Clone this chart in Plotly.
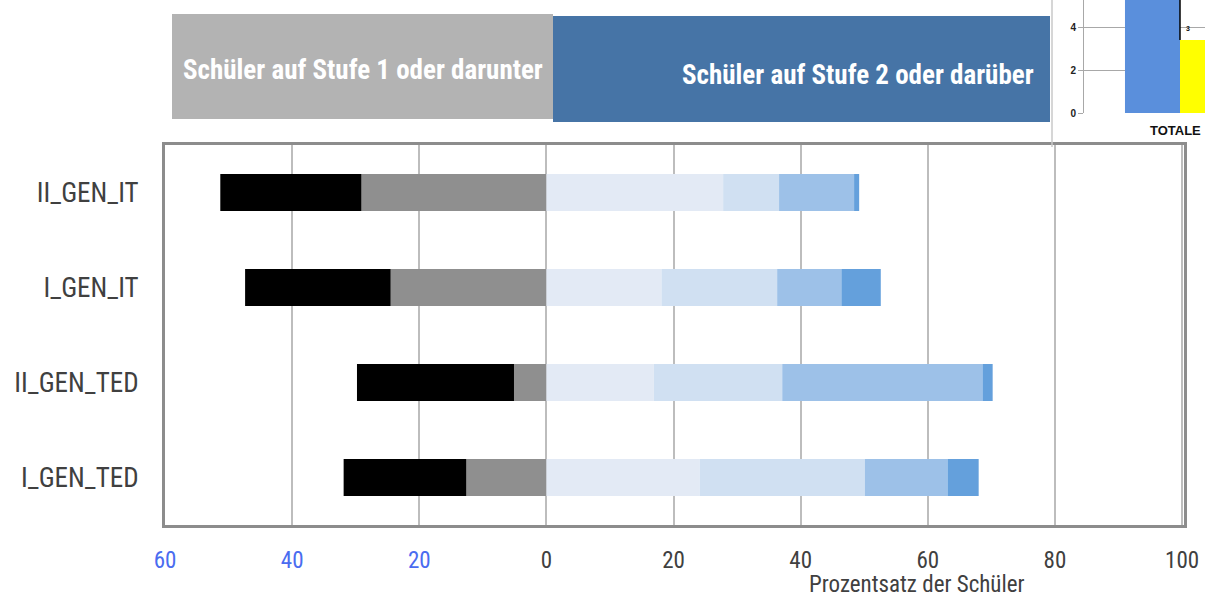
import plotly.graph_objects as go

W, H = 1205, 597

categories = ["II_GEN_IT", "I_GEN_IT", "II_GEN_TED", "I_GEN_TED"]
# below level 2 (plotted to the left)
level1 = [29.1, 24.5, 5.1, 12.6]
below1 = [22.2, 22.9, 24.7, 19.3]
# level 2 or above (plotted to the right)
level2 = [27.8, 18.1, 16.9, 24.1]
level3 = [8.8, 18.2, 20.2, 26.0]
level4 = [11.8, 10.1, 31.5, 13.0]
level5 = [0.8, 6.2, 1.6, 4.9]

tick_vals = [-60, -40, -20, 0, 20, 40, 60, 80, 100]
tick_text = ["60", "40", "20", "0", "20", "40", "60", "80", "100"]

inset_cats = ["TOTALE"]
inset_blue = [6.5]
inset_yellow = [3.4]
inset_ticks = [0, 2, 4]

FONT = "Liberation Sans Narrow, Roboto Condensed, Arial Narrow, Liberation Sans, sans-serif"
IFONT = "Liberation Sans, Arial, sans-serif"

fig = go.Figure()

def px_x(p):
    return p / W

def px_y(p):
    return 1 - p / H

neg_series = [(level1, "#8f8f8f"), (below1, "#000000")]
pos_series = [(level2, "#e3eaf5"), (level3, "#d0e0f2"), (level4, "#9dc1e8"), (level5, "#64a0dc")]

for vals, col in neg_series:
    fig.add_trace(go.Bar(y=categories, x=[-v for v in vals], orientation="h",
                         marker=dict(color=col, line=dict(width=0)), width=0.39,
                         showlegend=False, hoverinfo="skip", xaxis="x", yaxis="y"))
for vals, col in pos_series:
    fig.add_trace(go.Bar(y=categories, x=vals, orientation="h",
                         marker=dict(color=col, line=dict(width=0)), width=0.39,
                         showlegend=False, hoverinfo="skip", xaxis="x", yaxis="y"))

# inset bars (blue left of group centre, yellow right)
fig.add_trace(go.Bar(x=[-0.5], y=inset_blue, width=1, marker=dict(color="#5a8fdc", line=dict(width=0)),
                     showlegend=False, hoverinfo="skip", xaxis="x2", yaxis="y2"))
fig.add_trace(go.Bar(x=[0.5], y=inset_yellow, width=1, marker=dict(color="#ffff00", line=dict(width=0)),
                     showlegend=False, hoverinfo="skip", xaxis="x2", yaxis="y2"))

ticktext_col = []
for v, t in zip(tick_vals, tick_text):
    if v < 0:
        ticktext_col.append('<span style="color:#4a6cf0">%s</span>' % t)
    else:
        ticktext_col.append(t)

fig.update_layout(
    width=W, height=H,
    margin=dict(l=0, r=0, t=0, b=0, autoexpand=False),
    paper_bgcolor="white", plot_bgcolor="white",
    barmode="relative",
    font=dict(family=FONT, color="#404040", size=20),
    xaxis=dict(domain=[px_x(165), px_x(1184)], range=[-60, 100.3], automargin=False,
               tickvals=tick_vals, ticktext=ticktext_col,
               showgrid=True, gridcolor="#bdbdbd", gridwidth=2,
               zeroline=True, zerolinecolor="#bdbdbd", zerolinewidth=2,
               showline=True, linecolor="#8c8c8c", linewidth=3, mirror=True,
               ticks="outside", ticklen=12, tickcolor="rgba(0,0,0,0)",
               tickfont=dict(size=23, color="#404040", family=FONT)),
    yaxis=dict(domain=[px_y(525), px_y(145)], categoryorder="array", categoryarray=categories,
               range=[3.5, -0.5], automargin=False,
               showgrid=False, showline=True, linecolor="#8c8c8c", linewidth=3, mirror=True,
               ticks="outside", ticklen=18, tickcolor="rgba(0,0,0,0)",
               tickfont=dict(size=27, color="#404040", family=FONT)),
    xaxis2=dict(domain=[px_x(1084), 1.0], range=[-1.745, 0.4545], anchor="y2", automargin=False,
                tickvals=[], showgrid=False, zeroline=False, showline=False),
    yaxis2=dict(domain=[px_y(113), 1.0], range=[0, 5.256], anchor="x2", automargin=False,
                tickvals=inset_ticks, ticktext=["<b>%d</b>" % t for t in inset_ticks],
                showgrid=True, gridcolor="#a8a8a8", gridwidth=1,
                zeroline=False, showline=True, linecolor="#a8a8a8", linewidth=1,
                ticks="outside", ticklen=5, tickcolor="#a8a8a8",
                tickfont=dict(family=IFONT, size=10, color="#222222")),
)

shapes = []
# inset background
shapes.append(dict(type="rect", xref="paper", yref="paper", x0=px_x(1052), x1=1.0,
                   y0=px_y(147), y1=1.0, fillcolor="white", line=dict(width=0), layer="below"))
shapes.append(dict(type="line", xref="paper", yref="paper", x0=px_x(1052), x1=px_x(1052),
                   y0=px_y(147), y1=1.0, line=dict(color="#c8c8c8", width=1.5)))
# header boxes
shapes.append(dict(type="rect", xref="paper", yref="paper", x0=px_x(172), x1=px_x(553),
                   y0=px_y(119), y1=px_y(14), fillcolor="#b3b3b3", line=dict(width=0)))
shapes.append(dict(type="rect", xref="paper", yref="paper", x0=px_x(553), x1=px_x(1050),
                   y0=px_y(122), y1=px_y(16), fillcolor="#4674a6", line=dict(width=0)))
# black line at bar boundary in inset
shapes.append(dict(type="line", xref="x2", yref="y2", x0=0, x1=0, y0=inset_yellow[0], y1=5.256,
                   line=dict(color="#000000", width=1.5)))
fig.update_layout(shapes=shapes)

annotations = [
    dict(xref="paper", yref="paper", x=px_x(363), y=px_y(70), xanchor="center", yanchor="middle",
         text="<b>Schüler auf Stufe 1 oder darunter</b>",
         showarrow=False, font=dict(family=FONT, size=27, color="white")),
    dict(xref="paper", yref="paper", x=px_x(858), y=px_y(75), xanchor="center", yanchor="middle",
         text="<b>Schüler auf Stufe 2 oder darüber</b>",
         showarrow=False, font=dict(family=FONT, size=27, color="white")),
    dict(xref="paper", yref="paper", x=px_x(917), y=px_y(584), xanchor="center", yanchor="middle",
         text="Prozentsatz der Schüler",
         showarrow=False, font=dict(family=FONT, size=23, color="#404040")),
    dict(xref="paper", yref="paper", x=px_x(1203), y=px_y(130), xanchor="right", yanchor="middle",
         text="<b>%s</b>" % inset_cats[0],
         showarrow=False, font=dict(family=IFONT, size=13, color="#111111")),
    dict(xref="x2", yref="y2", x=0.15, y=3.95, xanchor="center", yanchor="middle",
         text="<b>%d</b>" % round(inset_yellow[0]),
         showarrow=False, font=dict(family=IFONT, size=7, color="#111111")),
]
fig.update_layout(annotations=annotations)

fig.write_html("out.html", config={"displayModeBar": False},
               post_script="document.body.style.margin='0';document.body.style.overflow='hidden';")
